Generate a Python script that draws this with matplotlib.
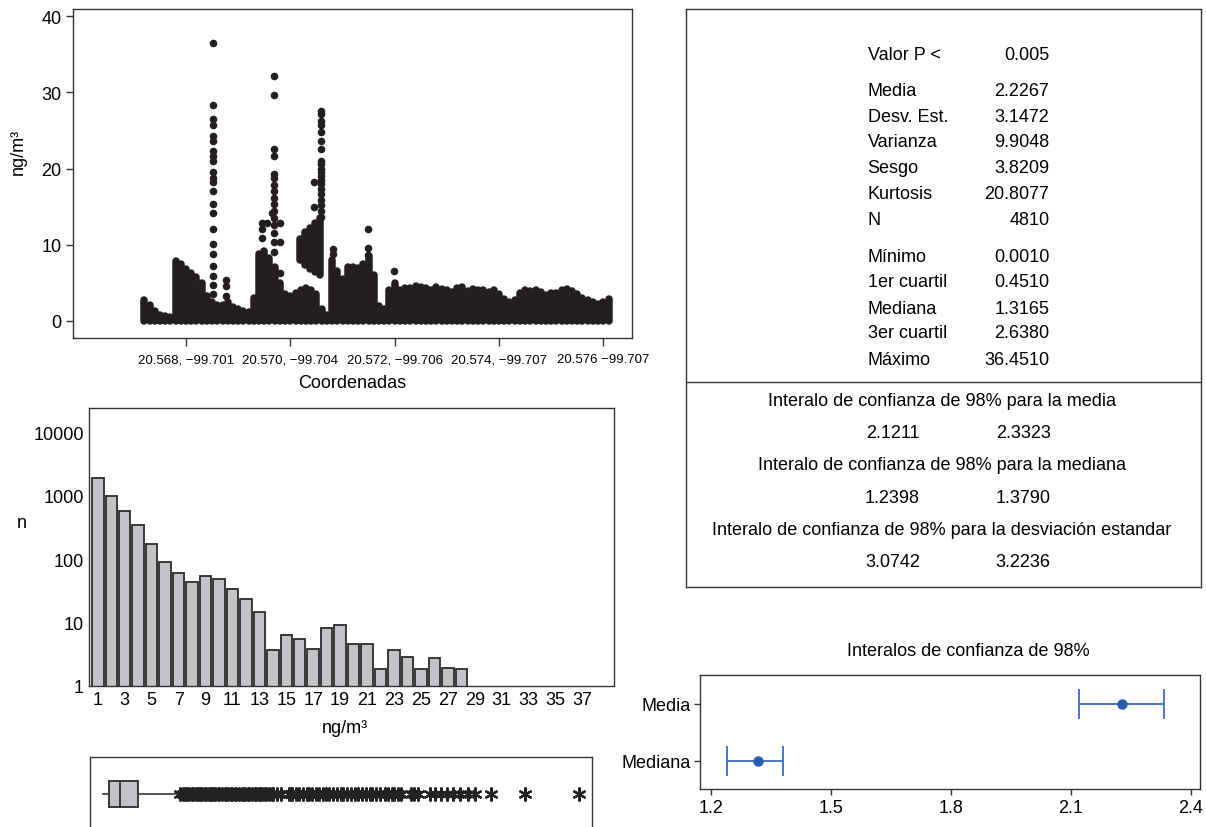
import matplotlib
matplotlib.use('Agg')
import matplotlib.pyplot as plt
import numpy as np

plt.rcParams['font.family'] = ['Liberation Sans', 'DejaVu Sans']
plt.rcParams['axes.unicode_minus'] = True

# ---------------- data ----------------
# scatter: dense band of points (columns: latitude, lower value, upper value)
band_lat = [20.5672, 20.5673, 20.5674, 20.5675, 20.5676, 20.5677, 20.5678, 20.5679,
            20.5680, 20.5681, 20.5682, 20.5683, 20.5684, 20.5685, 20.5686, 20.5687,
            20.5688, 20.5689, 20.5690, 20.5691, 20.5692, 20.5693, 20.5694, 20.5695,
            20.5696, 20.5697, 20.5698, 20.5699, 20.5700, 20.5701, 20.5702, 20.5703,
            20.5704, 20.5705, 20.5706, 20.5707, 20.5708, 20.5709, 20.5710, 20.5711,
            20.5712, 20.5713, 20.5714, 20.5715, 20.5716, 20.5717, 20.5718, 20.5719,
            20.5720, 20.5721, 20.5722, 20.5723, 20.5724, 20.5725, 20.5726, 20.5727,
            20.5728, 20.5729, 20.5730, 20.5731, 20.5732, 20.5733, 20.5734, 20.5735,
            20.5736, 20.5737, 20.5738, 20.5739, 20.5740, 20.5741, 20.5742, 20.5743,
            20.5744, 20.5745, 20.5746, 20.5747, 20.5748, 20.5749, 20.5750, 20.5751,
            20.5752, 20.5753, 20.5754, 20.5755, 20.5756, 20.5757, 20.5758, 20.5759,
            20.5760, 20.5761,
            20.570186, 20.570282, 20.570378, 20.570474, 20.570570]
band_lo = [0.0] * 90 + [8.0, 7.3, 6.8, 6.4, 6.0]
band_hi = [2.7, 2.1, 1.3, 0.8, 0.6, 0.5, 7.8, 7.5,
           6.8, 6.3, 5.8, 4.9, 3.3, 2.4, 2.1, 2.1,
           2.5, 1.8, 1.5, 1.3, 1.2, 3.0, 8.8, 9.1,
           8.3, 7.0, 5.0, 3.5, 3.3, 3.7, 4.1, 4.3,
           4.0, 3.5, 1.5, 0.7, 8.0, 6.5, 5.5, 7.0,
           7.0, 6.9, 7.5, 8.5, 6.0, 2.0, 1.5, 4.0,
           5.0, 4.1, 4.3, 4.3, 4.5, 4.4, 4.3, 4.1,
           4.4, 4.2, 4.0, 3.8, 4.3, 4.4, 3.9, 4.2,
           4.0, 4.1, 3.8, 4.0, 3.5, 2.9, 2.5, 2.7,
           3.7, 4.0, 3.9, 4.1, 3.8, 3.4, 3.7, 3.6,
           4.1, 4.2, 3.9, 3.5, 3.0, 2.7, 2.5, 2.2,
           2.4, 2.9,
           10.8, 11.6, 12.2, 12.8, 13.5]

# scatter: isolated points (latitude of each column, values in it)
spike_lat = [20.568512, 20.568767, 20.569693, 20.569802, 20.569457, 20.569553,
             20.569649, 20.570589, 20.570454, 20.570819, 20.571496, 20.571994]
spike_vals = [
    [36.5, 28.3, 26.5, 25.7, 24.3, 23.6, 22.3, 21.7, 21.0, 19.5, 18.8, 18.2, 17.1,
     15.3, 14.2, 12.1, 10.1, 8.8, 7.2, 5.9, 4.7, 3.5],
    [5.3, 4.6, 3.3],
    [32.2, 29.6, 22.6, 21.6, 19.3, 18.7, 17.8, 17.0, 16.1, 15.4, 14.4, 13.5, 12.6,
     11.5, 10.3, 9.0],
    [12.9, 10.4, 6.3],
    [12.9, 12.0, 10.9],
    [12.9],
    [14.2],
    [27.6, 27.2, 26.3, 25.7, 24.8, 23.6, 22.6, 21.0, 20.6, 20.0, 19.6, 19.0, 18.5,
     17.9, 17.3, 16.6, 15.8, 15.2, 14.4, 13.6],
    [18.2, 14.9],
    [9.4, 8.8],
    [12.0, 9.6, 8.6],
    [6.5],
]
coord_ticks = [20.568, 20.570, 20.572, 20.574, 20.576]
coord_labels = ['20.568, \u221299.701', '20.570, \u221299.704', '20.572, \u221299.706',
                '20.574, \u221299.707', '20.576 \u221299.707']

# histogram
hist_bins = list(range(1, 29))
hist_counts = [1905, 988, 578, 338, 173, 88.5, 60, 43, 53.7, 47.5, 33.8, 23.2, 14.8,
               3.7, 6.4, 5.5, 3.8, 8.1, 9.2, 4.5, 4.6, 1.84, 3.64, 2.82, 1.84, 2.75,
               1.91, 1.84]
hist_xticks = list(range(1, 38, 2))

# boxplot
box_min, box_q1, box_med, box_q3, box_whishi = 0.0010, 0.4510, 1.3165, 2.6380, 5.73
box_fliers = [5.9, 6.1, 6.3, 6.4, 6.6, 6.8, 6.9, 7.1, 7.3, 7.4, 7.6, 7.8, 7.9, 8.1,
              8.3, 8.4, 8.6, 8.8, 8.9, 9.1, 9.3, 9.4, 9.6, 9.8, 9.9, 10.1, 10.2,
              10.4, 10.6, 10.7, 10.9, 11.1, 11.2, 11.4, 11.6, 11.7, 11.9, 12.0, 12.2,
              12.4, 12.5, 12.7, 12.9, 13.0, 13.3, 13.6, 14.2, 14.4, 14.5, 14.8, 15.0,
              15.3, 15.6, 15.8, 16.0, 16.3, 16.5, 16.8, 17.1, 17.3, 17.6, 17.9, 18.2,
              18.4, 18.7, 19.0, 19.3, 19.5, 19.8, 20.1, 20.4, 20.6, 20.9, 21.2, 21.6,
              21.8, 22.1, 22.3, 22.6, 22.8, 23.6, 23.8, 24.1, 25.0, 25.4, 25.9, 26.3,
              26.8, 27.3, 27.9, 28.5, 29.7, 32.3, 36.451]

# summary table
stat_names = ['Valor P <', 'Media', 'Desv. Est.', 'Varianza', 'Sesgo', 'Kurtosis', 'N',
              'M\u00ednimo', '1er cuartil', 'Mediana', '3er cuartil', 'M\u00e1ximo']
stat_values = ['0.005', '2.2267', '3.1472', '9.9048', '3.8209', '20.8077', '4810',
               '0.0010', '0.4510', '1.3165', '2.6380', '36.4510']
ci_titles = ['Interalo de confianza de 98% para la media',
             'Interalo de confianza de 98% para la mediana',
             'Interalo de confianza de 98% para la desviaci\u00f3n estandar']
ci_bounds = [('2.1211', '2.3323'), ('1.2398', '1.3790'), ('3.0742', '3.2236')]

# confidence interval plot
ci_names = ['Mediana', 'Media']
ci_center = [1.3165, 2.2267]
ci_low = [1.2398, 2.1211]
ci_high = [1.3790, 2.3323]

# ---------------- figure ----------------
W, H = 1206, 828
fig = plt.figure(figsize=(W / 100, H / 100), dpi=100)
DOT = '#231f20'
SP = '#333333'
GRAY = '#c2c3c7'
BLUE = '#2a5cad'
FS = 13


def ax_px(l, t, r, b):
    return fig.add_axes([l / W, 1 - b / H, (r - l) / W, (b - t) / H])


def style_spines(ax, lw=1.0):
    for s in ax.spines.values():
        s.set_color(SP)
        s.set_linewidth(lw)


# scatter
ax1 = ax_px(72.7, 10, 632, 339)
ax1.vlines(band_lat, band_lo, band_hi, colors=DOT, linewidth=5.4, capstyle='round')
px, py = [], []
for lat, vals in zip(spike_lat, spike_vals):
    for v in vals:
        px.append(lat)
        py.append(v)
ax1.scatter(px, py, s=30, c=DOT, linewidths=0)
ax1.set_xlim(20.565827, 20.57655)
ax1.set_ylim(-2.27, 40.96)
ax1.set_yticks([0, 10, 20, 30, 40])
ax1.set_xticks(coord_ticks)
ax1.set_xticklabels(coord_labels, fontsize=9.5)
ax1.tick_params(axis='y', labelsize=FS, length=5, width=1, color=SP, pad=3)
ax1.tick_params(axis='x', length=6, width=1, color=SP, pad=5)
style_spines(ax1)
fig.text(352 / W, 1 - 384 / H, 'Coordenadas', fontsize=FS, ha='center', va='center')
fig.text(18 / W, 1 - 152 / H, 'ng/m\u00b3', fontsize=FS, ha='center', va='center',
         rotation=90)

# histogram
ax2 = ax_px(89.3, 409.3, 613.5, 686.7)
ax2.bar(hist_bins, hist_counts, width=0.85, color=GRAY, edgecolor='#2b2b2b',
        linewidth=1.3, log=True)
ax2.set_yscale('log')
ax2.set_ylim(1, 10 ** 4.379)
ax2.set_xlim(0.368, 39.31)
ax2.set_yticks([1, 10, 100, 1000, 10000])
ax2.set_yticklabels(['1', '10', '100', '1000', '10000'])
ax2.yaxis.set_minor_locator(matplotlib.ticker.NullLocator())
ax2.set_xticks(hist_xticks)
ax2.tick_params(axis='both', labelsize=FS, length=0, pad=4)
style_spines(ax2)
fig.text(345 / W, 1 - 729 / H, 'ng/m\u00b3', fontsize=FS, ha='center', va='center')
fig.text(22 / W, 1 - 523 / H, 'n', fontsize=FS, ha='center', va='center')

# boxplot
ax3 = ax_px(90, 758, 592, 832)
stats = [dict(med=box_med, q1=box_q1, q3=box_q3, whislo=box_min, whishi=box_whishi,
              fliers=box_fliers)]
ax3.bxp(stats, positions=[1], widths=0.35, orientation='horizontal', patch_artist=True,
        showcaps=False,
        boxprops=dict(facecolor=GRAY, edgecolor='#2b2b2b', linewidth=1.3),
        medianprops=dict(color='#2b2b2b', linewidth=1.3),
        whiskerprops=dict(color='#444444', linewidth=1.3),
        flierprops=dict(marker=(6, 2, 0), markersize=10, markeredgecolor='#222222',
                        markerfacecolor='none', markeredgewidth=1.6, linestyle='none'))
ax3.set_xlim(-1.0, 37.43)
ax3.set_ylim(0.5, 1.5)
ax3.set_xticks([])
ax3.set_yticks([])
style_spines(ax3)

# CI plot
ax4 = ax_px(700, 676, 1200, 790)
ypos = [0, 1]
xerr = [[c - l for c, l in zip(ci_center, ci_low)], [h - c for c, h in zip(ci_center, ci_high)]]
ax4.errorbar(ci_center, ypos, xerr=xerr, fmt='o', color=BLUE, ecolor='#3a6cc0',
             markersize=6.5, capsize=11, elinewidth=1.3, capthick=1.3)
ax4.set_ylim(-0.5, 1.5)
ax4.set_xlim(1.1725, 2.4225)
ax4.set_yticks(ypos)
ax4.set_yticklabels(ci_names)
ax4.set_xticks([1.2, 1.5, 1.8, 2.1, 2.4])
ax4.set_xticklabels(['1.2', '1.5', '1.8', '2.1', '2.4'])
ax4.tick_params(axis='both', labelsize=FS, length=4, width=1, color=SP, pad=3)
style_spines(ax4)
fig.text(968 / W, 1 - 651 / H, 'Interalos de confianza de 98%', fontsize=FS,
         ha='center', va='center')

# stats table
ax5 = ax_px(686, 10, 1201, 588)
ax5.set_xlim(686, 1201)
ax5.set_ylim(588, 10)
ax5.set_xticks([])
ax5.set_yticks([])
style_spines(ax5)
row_y = [60, 95.7, 121.7, 146.7, 173.3, 199, 225, 262.3, 286.7, 314, 338.3, 365]
for name, val, y in zip(stat_names, stat_values, row_y):
    ax5.text(867.7, y, name, fontsize=FS, ha='left', va='baseline')
    ax5.text(1049.3, y, val, fontsize=FS, ha='right', va='baseline')
ax5.plot([686, 1201], [383, 383], color=SP, linewidth=1.0)
title_y = [406, 470, 535]
bound_y = [438.3, 502.7, 566.7]
for t, (lo, hi), ty, by in zip(ci_titles, ci_bounds, title_y, bound_y):
    ax5.text(942, ty, t, fontsize=FS, ha='center', va='baseline')
    ax5.text(892.5, by, lo, fontsize=FS, ha='center', va='baseline')
    ax5.text(1023.3, by, hi, fontsize=FS, ha='center', va='baseline')

fig.savefig('out.png', dpi=100)
